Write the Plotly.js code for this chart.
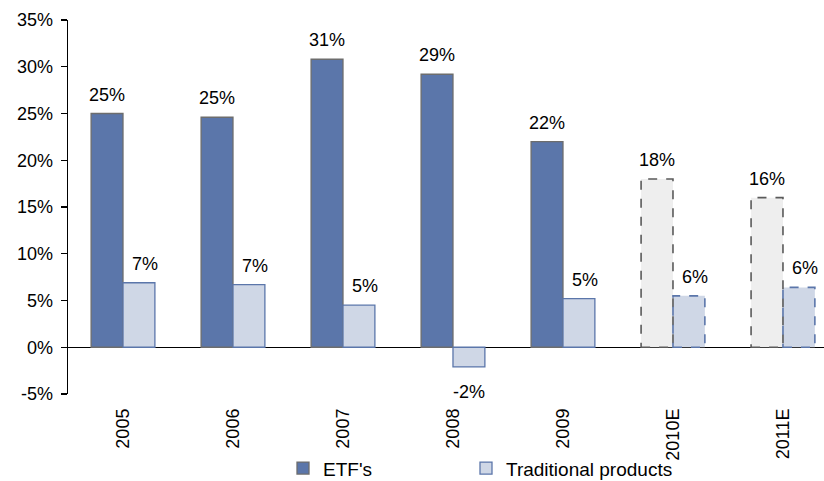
<!DOCTYPE html>
<html>
<head>
<meta charset="utf-8">
<script src="https://cdn.plot.ly/plotly-3.0.1.min.js"></script>
<style>html,body{margin:0;padding:0;background:#fff;}#chart{width:824px;height:481px;}</style>
</head>
<body>
<div id="chart"></div>
<script>
var categories = ['2005', '2006', '2007', '2008', '2009', '2010E', '2011E'];
var etfValues = [25.0, 24.6, 30.8, 29.2, 22.0, 18.0, 16.0];
var tradValues = [6.9, 6.7, 4.5, -2.1, 5.2, 5.5, 6.4];
var etfLabels = ['25%', '25%', '31%', '29%', '22%', '18%', '16%'];
var tradLabels = ['7%', '7%', '5%', '-2%', '5%', '6%', '6%'];
var isEstimate = [false, false, false, false, false, true, true];
var yTicks = [-5, 0, 5, 10, 15, 20, 25, 30, 35];

var ETF_FILL = '#5b76aa', ETF_LINE = '#6d6d6d';
var TRAD_FILL = '#cfd7e6', TRAD_LINE = '#5b76aa';
var EST_FILL = '#eeeeee', EST_LINE = '#5a5a5a';
var NONE = 'rgba(0,0,0,0)';
var FONT = 'Liberation Sans, Arial, sans-serif';

var bargap = 0.42;
var barW = (1 - bargap) / 2;

var etfTrace = {
  type: 'bar', name: "ETF's", x: categories, y: etfValues, legend: 'legend',
  marker: {
    color: isEstimate.map(function (e) { return e ? EST_FILL : ETF_FILL; }),
    line: { color: isEstimate.map(function (e) { return e ? NONE : ETF_LINE; }), width: 1.3 }
  },
  hoverinfo: 'none'
};
var tradTrace = {
  type: 'bar', name: 'Traditional products', x: categories, y: tradValues, legend: 'legend2',
  marker: {
    color: TRAD_FILL,
    line: { color: isEstimate.map(function (e) { return e ? NONE : TRAD_LINE; }), width: 1.3 }
  },
  hoverinfo: 'none'
};

var shapes = [];
var annotations = [];
categories.forEach(function (c, i) {
  if (isEstimate[i]) {
    shapes.push({ type: 'rect', xref: 'x', yref: 'y', x0: i - barW, x1: i, y0: 0, y1: etfValues[i],
      line: { color: EST_LINE, width: 1.6, dash: 'dash' }, fillcolor: NONE, layer: 'above' });
    shapes.push({ type: 'rect', xref: 'x', yref: 'y', x0: i, x1: i + barW, y0: 0, y1: tradValues[i],
      line: { color: TRAD_LINE, width: 1.6, dash: 'dash' }, fillcolor: NONE, layer: 'above' });
  }
  annotations.push({ xref: 'x', yref: 'y', x: i - barW / 2, y: etfValues[i], text: etfLabels[i],
    showarrow: false, yanchor: 'bottom', yshift: 7, font: { size: 18, color: '#000', family: FONT } });
  var neg = tradValues[i] < 0;
  annotations.push({ xref: 'x', yref: 'y', x: i + barW / 2, y: tradValues[i], text: tradLabels[i],
    showarrow: false, yanchor: neg ? 'top' : 'bottom', yshift: neg ? -13 : 7, xshift: neg ? 0 : 6,
    font: { size: 18, color: '#000', family: FONT } });
});

var legendBase = { orientation: 'h', xref: 'container', yref: 'container', xanchor: 'left', yanchor: 'top',
  y: 0.066, font: { size: 19, color: '#000', family: FONT }, bgcolor: NONE };

var layout = {
  width: 824, height: 481,
  margin: { l: 68, r: 0, t: 20, b: 87, pad: 0, autoexpand: false },
  paper_bgcolor: '#fff', plot_bgcolor: '#fff',
  font: { family: FONT, size: 18, color: '#000' },
  barmode: 'group', bargap: bargap, bargroupgap: 0,
  showlegend: true,
  legend: Object.assign({}, legendBase, { x: 283 / 824 }),
  legend2: Object.assign({}, legendBase, { x: 466 / 824 }),
  xaxis: { type: 'category', range: [-0.5, 6.373], tickangle: -90, showline: false, ticks: '', automargin: false,
    showgrid: false, zeroline: false, tickfont: { size: 18, color: '#000' }, ticklabelstandoff: 10, fixedrange: true },
  yaxis: { range: [-5, 35], tickvals: yTicks, ticktext: yTicks.map(function (v) { return v + '%'; }), automargin: false,
    ticks: 'outside', ticklen: 6, tickcolor: '#000', tickwidth: 1.3, showline: true, linecolor: '#000', linewidth: 1.3,
    showgrid: false, zeroline: true, zerolinecolor: '#000', zerolinewidth: 1.5,
    tickfont: { size: 18, color: '#000' }, ticklabelstandoff: 4, fixedrange: true },
  shapes: shapes,
  annotations: annotations
};

Plotly.newPlot('chart', [etfTrace, tradTrace], layout, { staticPlot: true, displayModeBar: false });
</script>
</body>
</html>
